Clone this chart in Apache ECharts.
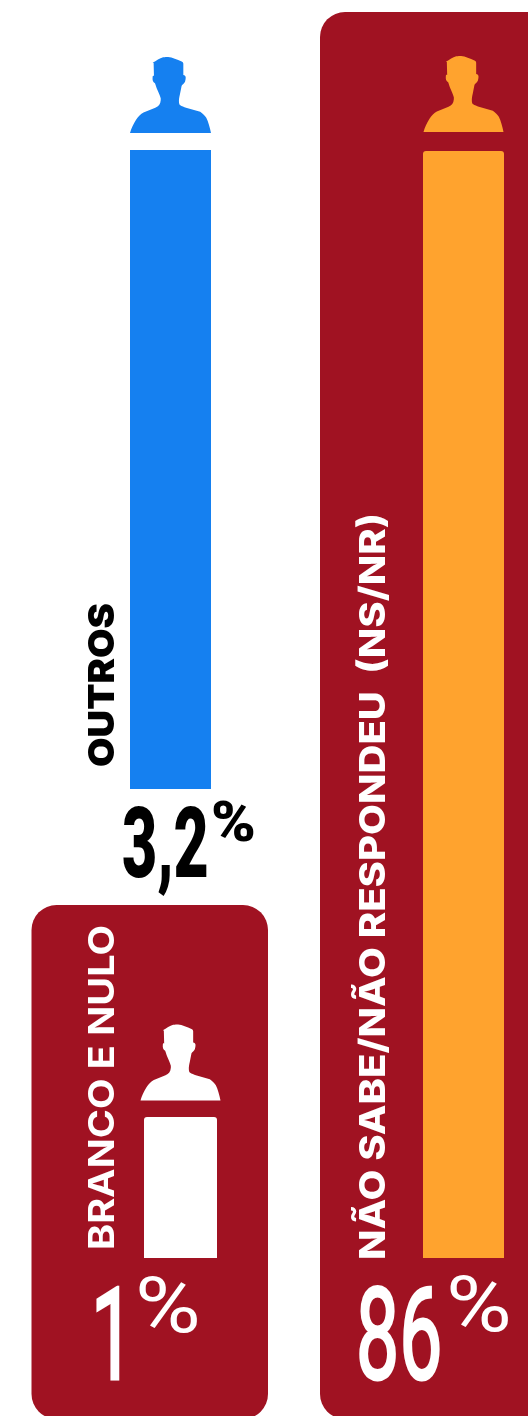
<!DOCTYPE html>
<html>
<head>
<meta charset="utf-8">
<title>Pesquisa</title>
<script src="https://cdn.jsdelivr.net/npm/echarts@6/dist/echarts.min.js"></script>
<style>
    html, body { margin: 0; padding: 0; background: #fff; }
    #main { width: 528px; height: 1416px; }
</style>
</head>
<body>
<div id="main"></div>
<script>
var categories = ['OUTROS', 'BRANCO E NULO', 'NÃO SABE/NÃO RESPONDEU  (NS/NR)'];
var values = [3.2, 1, 86];

var RED = '#A01222';
var person = 'path://M0 225 C4 212 10 198 18 186 C24 176 32 168 40 164 L75 150 C85 146 90 140 91 128 L91 122 C88 112 84 104 80 95 C77 88 76 82 74 78 C68 75 66 68 67 60 C67 56 69 55 71 56 L70 18 L67 17 C78 12 88 3 98 1 C105 0 107 0 113 0 C125 1 140 8 153 13 C157 15 158 17 158 20 L158 53 C162 54 165 56 165 60 C165 66 164 70 163 73 C160 78 156 81 153 85 C151 93 150 102 148 110 C146 118 145 124 145 130 C145 136 146 140 148 142 C154 146 160 148 166 150 L208 162 C216 168 222 174 226 180 C232 192 237 210 240 225 Z';

// cada barra tem a propria escala, como no original
var layout = [
    { left: 130, top: 150, width: 81, height: 639, color: '#1580F0', text: '#000', radius: 0, icon: -55, iconW: 81,
      label: { x: 103, y: 767, weight: 900, size: 36, len: 164 },
      num: { x: 122, y: 852, font: '900 98px Roboto', sx: 0.62, line: 0, px: 211, py: 827, pfont: '900 55px Roboto', psx: 1.1 } },
    { left: 144, top: 1117, width: 73, height: 141, color: '#fff', text: '#fff', radius: 3, icon: -54.5, iconW: 80,
      label: { x: 103, y: 1250, weight: 700, size: 36, len: 325 },
      num: { x: 91, y: 1347, font: '400 128px Roboto', sx: 0.6, line: 3, px: 135, py: 1312, pfont: '400 78px Roboto', psx: 1.15 } },
    { left: 423, top: 151, width: 81, height: 1107, color: '#FFA32E', text: '#fff', radius: 3, icon: -57, iconW: 80,
      label: { x: 374, y: 1260, weight: 800, size: 36, len: 747 },
      num: { x: 356, y: 1347, font: '400 128px Roboto', sx: 0.6, line: 3, px: 446, py: 1311, pfont: '400 78px Roboto', psx: 1.15 } }
];

var grid = [], xAxis = [], yAxis = [], series = [];
var graphic = [
    { type: 'rect', z: -1, shape: { x: 31.5, y: 905, width: 236.5, height: 514, r: 25 }, style: { fill: RED } },
    { type: 'rect', z: -1, shape: { x: 320, y: 12, width: 260, height: 1407, r: 25 }, style: { fill: RED } }
];

// mede o texto para caber no comprimento do original
var ctx = document.createElement('canvas').getContext('2d');

categories.forEach(function (name, i) {
    var p = layout[i];
    grid.push({ left: p.left, top: p.top, width: p.width, height: p.height });
    xAxis.push({ type: 'category', gridIndex: i, data: [name], show: false });
    yAxis.push({ type: 'value', gridIndex: i, min: 0, max: values[i], show: false });
    series.push({
        type: 'bar', xAxisIndex: i, yAxisIndex: i, data: [values[i]], barWidth: '100%', silent: true,
        itemStyle: { color: p.color, borderRadius: [p.radius, p.radius, 0, 0] }
    });
    series.push({
        type: 'scatter', xAxisIndex: i, yAxisIndex: i, data: [[name, values[i]]], clip: false, silent: true,
        symbol: person, symbolSize: [p.iconW, 76], symbolOffset: [0, p.icon],
        itemStyle: { color: p.color, opacity: 1 }
    });

    var font = p.label.weight + ' ' + p.label.size + 'px Inter';
    ctx.font = font;
    graphic.push({
        type: 'text', z: 10, x: p.label.x, y: p.label.y, rotation: Math.PI / 2,
        scaleX: p.label.len / ctx.measureText(name).width,
        style: { text: name, font: font, fill: p.text, textAlign: 'left', textVerticalAlign: 'middle' }
    });
    graphic.push({
        type: 'text', z: 10, x: p.num.x, y: p.num.y, scaleX: p.num.sx,
        style: {
            text: String(values[i]).replace('.', ','), font: p.num.font, fill: p.text,
            stroke: p.num.line ? p.text : null, lineWidth: p.num.line,
            textAlign: 'left', textVerticalAlign: 'middle'
        }
    });
    graphic.push({
        type: 'text', z: 10, x: p.num.px, y: p.num.py, scaleX: p.num.psx,
        style: { text: '%', font: p.num.pfont, fill: p.text, textAlign: 'left', textVerticalAlign: 'middle' }
    });
});

var myChart = echarts.init(document.getElementById('main'), null, { renderer: 'canvas' });
myChart.setOption({
    animation: false,
    backgroundColor: '#fff',
    grid: grid,
    xAxis: xAxis,
    yAxis: yAxis,
    series: series,
    graphic: graphic
});
</script>
</body>
</html>
